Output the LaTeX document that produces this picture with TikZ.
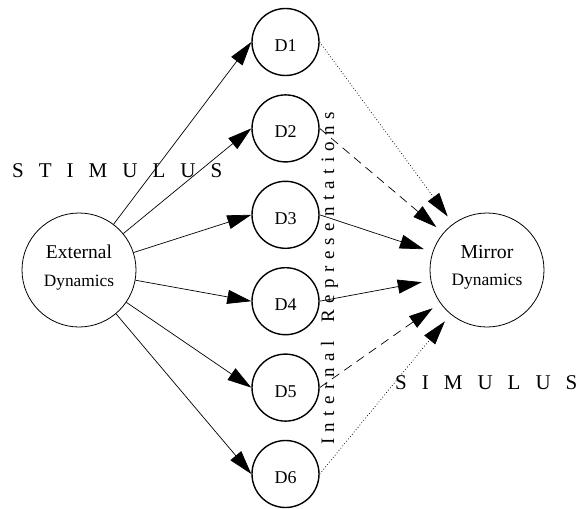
\documentclass[tikz,border=0pt]{standalone}
\usepackage{fontspec}
\setmainfont{Liberation Serif}
\usetikzlibrary{arrows.meta}
\newcommand{\gapS}{\hspace{15pt}}
\newcommand{\gapI}{\hspace{6.35pt}}
\begin{document}
\begin{tikzpicture}[x=1pt,y=-1pt,
  bigcirc/.style={circle,draw,line width=0.8pt,minimum size=114pt,inner sep=0pt},
  dnode/.style={circle,draw,line width=1.4pt,minimum size=67pt,inner sep=0pt,
    font=\fontsize{18}{20}\selectfont,text height=19pt},
  conn/.style={line width=0.7pt,-{Triangle[length=24pt,width=14pt]}},
  toMirror/.style={conn,shorten >=9pt},
  dotline/.style={dash pattern=on 0.8pt off 2.2pt},
  dashline/.style={dash pattern=on 9pt off 6pt},
  titletext/.style={inner sep=0pt,font=\fontsize{21}{24}\selectfont},
  nametext/.style={inner sep=0pt,anchor=base}
]
\useasboundingbox (0,0) rectangle (577,508);
% main nodes
\node[bigcirc] (ext) at (79,270) {};
\node[bigcirc] (mir) at (487,270) {};
\node[nametext,font=\fontsize{19.5}{22}\selectfont] (extA) at (79,258) {External};
\node[nametext,font=\fontsize{17.3}{20}\selectfont] (extB) at (79,286) {Dynamics};
\node[nametext,font=\fontsize{19.8}{22}\selectfont] (mirA) at (487,258) {Mirror};
\node[nametext,font=\fontsize{17.5}{20}\selectfont] (mirB) at (487,285) {Dynamics};
\foreach \i in {1,...,6} {
  \node[dnode] (d\i) at (285.5,{42+86.4*(\i-1)}) {D\i};
}
% connectors from External Dynamics
\foreach \i in {1,...,6} {
  \draw[conn] (ext) -- (d\i.west);
}
% connectors into Mirror Dynamics
\draw[toMirror,dotline] (d1.east) -- (mir);
\draw[toMirror,dashline] (d2.east) -- (mir);
\draw[toMirror] (d3.east) -- (mir);
\draw[toMirror] (d4.east) -- (mir);
\draw[toMirror,dashline] (d5.east) -- (mir);
\draw[toMirror,dotline] (d6.east) -- (mir);
% labels
\node[titletext,anchor=base west] (stim) at (12,177.7)
  {S\gapS T\gapS I\gapS M\gapS U\gapS L\gapS U\gapS S};
\node[titletext,anchor=base west] (simu) at (395,389.3)
  {S\gapS I\gapS M\gapS U\gapS L\gapS U\gapS S};
\node[inner sep=0pt,rotate=90,anchor=base west,font=\fontsize{19}{21}\selectfont] (intrep) at (334,445)
  {I\gapI n\gapI t\gapI e\gapI r\gapI n\gapI a\gapI l\gapI\gapI\gapI R\gapI e\gapI p\gapI r\gapI e\gapI s\gapI e\gapI n\gapI t\gapI a\gapI t\gapI i\gapI o\gapI n\gapI s};
\end{tikzpicture}
\end{document}
